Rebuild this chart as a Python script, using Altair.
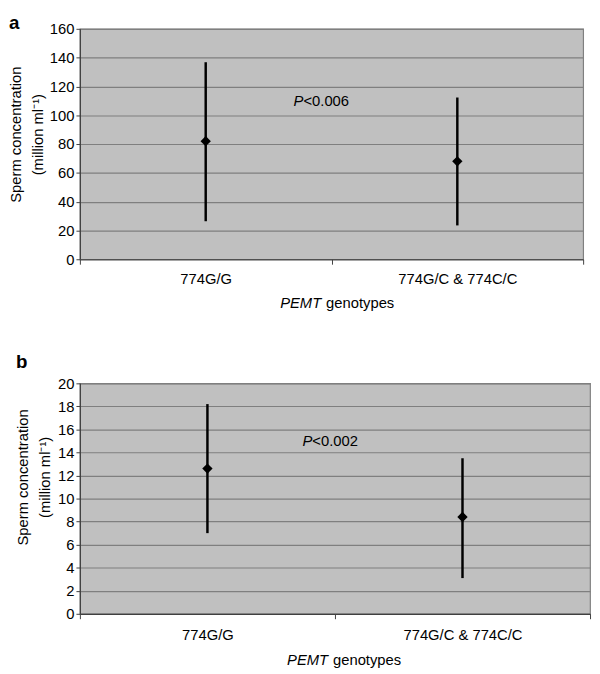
import altair as alt
import pandas as pd

FONT = "Liberation Sans"

genotypes = ["774G/G", "774G/C & 774C/C"]

a_mean = [82, 68]
a_low = [26.4, 23.5]
a_high = [136.8, 112.3]
a_ticks = [0, 20, 40, 60, 80, 100, 120, 140, 160]

b_mean = [12.6, 8.4]
b_low = [7.0, 3.1]
b_high = [18.2, 13.5]
b_ticks = [0, 2, 4, 6, 8, 10, 12, 14, 16, 18, 20]

y_title = ["Sperm concentration", "(million ml\u207b\u00b9)"]


def panel(mean, low, high, ticks, letter, pval, p_y, width, cfg):
    df = pd.DataFrame({"g": genotypes, "mean": mean, "low": low, "high": high})
    ymax = ticks[-1]
    xaxis = alt.Axis(title=None, labelAngle=0, labelFont=FONT, labelFontSize=15,
                     labelColor="black", tickBand="extent", tickSize=5,
                     tickColor="#404040", domainColor="#404040", domainWidth=1.2,
                     labelPadding=cfg["xlabpad"], grid=False)
    xscale = alt.Scale(paddingInner=0, paddingOuter=0)
    yaxis = alt.Axis(values=ticks, title=y_title, titleFont=FONT, titleFontSize=15,
                     titleFontWeight="normal", titleColor="black",
                     titleAngle=270, titleAlign="center", titleBaseline="top",
                     titleLineHeight=22, titleX=cfg["tx"], titleY=cfg["ty"],
                     labelFont=FONT, labelFontSize=15, labelColor="black",
                     tickSize=4, labelPadding=2, tickColor="#404040",
                     domainColor="#404040", domainWidth=1.2,
                     grid=True, gridColor="#7f7f7f", gridWidth=1.2)
    yscale = alt.Scale(domain=[0, ymax], nice=False, zero=True)

    def X():
        return alt.X("g:N", sort=genotypes, scale=xscale, axis=xaxis)

    def Y(field):
        return alt.Y(field, scale=yscale, axis=yaxis)

    base = alt.Chart(df)
    rules = base.mark_rule(color="black", strokeWidth=2.5).encode(
        x=X(), y=Y("low:Q"), y2="high:Q")
    pts = base.mark_point(shape="diamond", filled=True, color="black", size=110,
                          opacity=1).encode(x=X(), y=Y("mean:Q"))

    tdf = pd.DataFrame({"v": [p_y]})
    tb = alt.Chart(tdf)
    p_it = tb.mark_text(text="P", font=FONT, fontSize=15, fontStyle="italic", align="right",
                        baseline="alphabetic", color="black").encode(
        x=alt.value(cfg["px"]), y=Y("v:Q"))
    p_rest = tb.mark_text(text=pval, font=FONT, fontSize=15, align="left",
                          baseline="alphabetic", color="black").encode(
        x=alt.value(cfg["px"]), y=Y("v:Q"))

    lab = tb.mark_text(text=letter, font=FONT, fontSize=19, fontWeight="bold", align="left",
                       baseline="alphabetic", color="black").encode(
        x=alt.value(cfg["lx"]), y=alt.value(cfg["ly"]))
    xt1 = tb.mark_text(text="PEMT", font=FONT, fontSize=15, fontStyle="italic", align="right",
                       baseline="alphabetic", color="black").encode(
        x=alt.value(cfg["xt"]), y=alt.value(cfg["xty"]))
    xt2 = tb.mark_text(text="genotypes", font=FONT, fontSize=15, align="left",
                       baseline="alphabetic", color="black").encode(
        x=alt.value(cfg["xt"] + 5), y=alt.value(cfg["xty"]))

    return alt.layer(rules, pts, p_it, p_rest, lab, xt1, xt2).properties(
        width=width, height=234)


cfg_a = dict(xlabpad=8, tx=-72, ty=107, px=227, lx=-72, ly=0, xt=245, xty=283)
cfg_b = dict(xlabpad=9, tx=-65, ty=95, px=236, lx=-65, ly=-16, xt=252, xty=286)

pa = panel(a_mean, a_low, a_high, a_ticks, "a", "<0.006", 106.7, 511, cfg_a)
pb = panel(b_mean, b_low, b_high, b_ticks, "b", "<0.002", 14.6, 518, cfg_b)

chart = alt.concat(pa, pb, columns=1, spacing=41).resolve_scale(y="independent").properties(
    align="none", padding=0
).configure(background="white").configure_view(fill="#c0c0c0", stroke="#808080",
                                                strokeWidth=1.2)

chart.save("out.html", embed_options={"renderer": "svg", "actions": False})
